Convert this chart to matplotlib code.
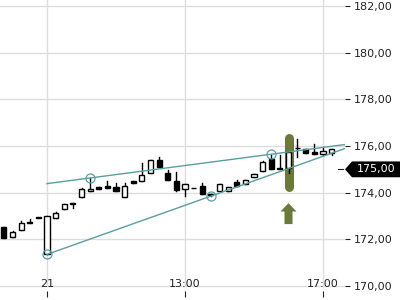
import matplotlib
matplotlib.use("Agg")
import matplotlib.pyplot as plt
from matplotlib.patches import Rectangle, Polygon
from matplotlib.transforms import blended_transform_factory
import numpy as np

# ---- data (15-minute candles, index 0 = session open "21") ----
idx = list(range(-5, 34))
opens = [172.54, 172.08, 172.38, 172.75, 172.92,
         171.35, 172.92, 173.28, 173.57, 173.82, 174.06, 174.23, 174.28, 174.23, 173.80,
         174.50, 174.48, 174.83, 175.39, 174.83, 174.48, 174.15, 174.18, 174.28, 173.95,
         174.06, 174.06, 174.45, 174.38, 174.66, 174.94, 175.44, 175.04, 175.04, 175.90,
         175.88, 175.73, 175.66, 175.71]
closes = [172.06, 172.30, 172.71, 172.69, 172.92,
          172.98, 173.11, 173.50, 173.50, 174.14, 174.14, 174.14, 174.21, 174.08, 174.28,
          174.43, 174.76, 175.39, 175.11, 174.53, 174.11, 174.36, 174.18, 173.94, 173.91,
          174.36, 174.23, 174.27, 174.53, 174.80, 175.30, 175.00, 175.00, 175.76, 175.90,
          175.70, 175.68, 175.77, 175.88]
highs = [172.54, 172.37, 172.80, 172.87, 172.92,
         172.98, 173.15, 173.50, 173.57, 174.20, 174.63, 174.23, 174.48, 174.40, 174.41,
         174.50, 175.27, 175.39, 175.51, 174.97, 174.88, 174.36, 174.18, 174.40, 173.95,
         174.36, 174.23, 174.53, 174.53, 174.80, 175.37, 175.63, 175.61, 175.76, 176.29,
         175.88, 176.07, 175.97, 175.88]
lows = [172.06, 172.08, 172.38, 172.68, 172.92,
        171.35, 172.92, 173.28, 173.35, 173.82, 174.06, 174.14, 174.21, 174.08, 173.80,
        174.43, 174.48, 174.83, 175.11, 174.53, 174.07, 173.85, 174.18, 173.94, 173.85,
        174.06, 174.06, 174.27, 174.38, 174.66, 174.94, 175.00, 175.00, 174.83, 175.54,
        175.70, 175.67, 175.60, 175.63]

tick_pos = [0, 16, 32]
tick_labels = ["21", "13:00", "17:00"]
y_ticks = [170, 172, 174, 176, 178, 180, 182]

upper_touch = ([5, 26], [174.63, 175.65])
lower_touch = ([0, 19], [171.35, 173.85])
last_price = 175.00
signal_idx = 28
signal_range = (174.25, 176.33)
arrow_base, arrow_top = 172.65, 173.55

# ---- styling ----
teal = "#5a9ea3"
olive = "#6b7a3a"
grid_c = "#dddddd"

fig = plt.figure(figsize=(4, 3), dpi=100)
ax = fig.add_axes([0, 3 / 300, 345 / 400, 297 / 300])
xmin, xmax = -47 / 8.625, (345 - 47) / 8.625
ax.set_xlim(xmin, xmax)
ax.set_ylim(169.52, 182.27)
for s in ax.spines.values():
    s.set_visible(False)

# grid
for yv in y_ticks:
    ax.axhline(yv, color=grid_c, lw=1.0, zorder=0)
for xv in tick_pos:
    ax.plot([xv, xv], [170, 182.27], color=grid_c, lw=1.0, zorder=0)

# highlight behind signal candle
ax.plot([signal_idx, signal_idx], list(signal_range), color=olive, lw=6.5,
        solid_capstyle="round", zorder=1)

# candles
w = 0.58
for i, o, h, l, c in zip(idx, opens, highs, lows, closes):
    ax.plot([i, i], [l, h], color="black", lw=1.0, zorder=2)
    lo, hi = min(o, c), max(o, c)
    hgt = max(hi - lo, 0.02)
    fc = "white" if c > o else "black"
    ax.add_patch(Rectangle((i - w / 2, lo), w, hgt, facecolor=fc,
                           edgecolor="black", lw=1.0, zorder=3))

# trendlines
for (xs, ys) in (upper_touch, lower_touch):
    slope = (ys[1] - ys[0]) / (xs[1] - xs[0])
    x0 = 0
    y0 = ys[0] + slope * (x0 - xs[0])
    y1 = ys[0] + slope * (xmax - xs[0])
    ax.plot([x0, xmax], [y0, y1], color=teal, lw=1.0, zorder=4)
    ax.plot(xs, ys, "o", ms=6.5, mfc="none", mec=teal, mew=0.9, zorder=5)

# signal arrow
ax.arrow(signal_idx, arrow_base, 0, arrow_top - arrow_base, width=0.93,
         head_width=1.86, head_length=0.36, length_includes_head=True,
         color=olive, lw=0, zorder=4)

# y axis on the right
ax.yaxis.tick_right()
ax.set_yticks(y_ticks)
ax.set_yticklabels([f"{v:.2f}".replace(".", ",") for v in y_ticks])
ax.tick_params(axis="y", length=3.6, width=0.8, pad=3, labelsize=8,
               colors="#222222")

# x axis ticks inside, labels above
ax.set_xticks(tick_pos)
ax.set_xticklabels([])
ax.tick_params(axis="x", direction="in", length=4, width=0.8, colors="#222222")
tr = blended_transform_factory(ax.transData, ax.transAxes)
for p, lab in zip(tick_pos, tick_labels):
    ax.text(p, 0.045, lab, transform=tr, ha="center", va="center",
            fontsize=8, color="#222222")

# last price tag
tr2 = blended_transform_factory(ax.transAxes, ax.transData)
half = 0.34
tip = 1.0
body_l = 1.0 + 7 / 345
ax.add_patch(Polygon([[tip, last_price], [body_l, last_price + half],
                      [1.2, last_price + half], [1.2, last_price - half],
                      [body_l, last_price - half]], closed=True,
                     transform=tr2, facecolor="black", edgecolor="none",
                     clip_on=False, zorder=6))
ax.plot([1.0 - 7 / 345, 1.0 - 2 / 345], [last_price, last_price], transform=tr2,
        color="#222222", lw=0.8, clip_on=False)
ax.text(1.0 + 12 / 345, last_price, f"{last_price:.2f}".replace(".", ","),
        transform=tr2, ha="left", va="center", fontsize=8, color="white",
        zorder=7, clip_on=False)

fig.savefig("out.png", dpi=100)
